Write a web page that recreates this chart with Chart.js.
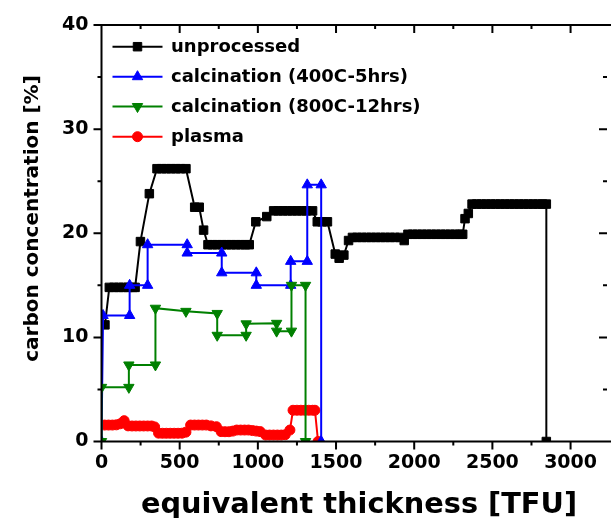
<!DOCTYPE html>
<html><head><meta charset="utf-8">
<script src="https://cdn.jsdelivr.net/npm/chart.js@4.4.1/dist/chart.umd.min.js"></script>
<style>html,body{margin:0;padding:0;background:#fff;}canvas{display:block;}</style>
</head><body>
<canvas id="c" width="614" height="518"></canvas>
<script>
// ---------- data ----------
const seriesNames = ['unprocessed', 'calcination (400C-5hrs)', 'calcination (800C-12hrs)', 'plasma'];

const unprocessed = [
  [22,11.2],
  [50,14.8],[80,14.8],[110,14.8],[140,14.8],[170,14.8],[200,14.8],[215,14.8],
  [249,19.2],[306,23.8],
  [355,26.2],[385,26.2],[415,26.2],[445,26.2],[475,26.2],[505,26.2],[540,26.2],
  [596,22.5],[625,22.5],[653,20.3],
  [681,18.9],[710,18.9],[740,18.9],[770,18.9],[800,18.9],[830,18.9],[860,18.9],[890,18.9],[920,18.9],[945,18.9],
  [987,21.1],[1057,21.6],
  [1101,22.15],[1130,22.15],[1160,22.15],[1190,22.15],[1220,22.15],[1250,22.15],[1280,22.15],[1310,22.15],[1350,22.15],
  [1380,21.1],[1410,21.1],[1445,21.1],
  [1495,18.0],[1520,17.6],[1550,17.9],[1580,19.3],
  [1605,19.6],[1635,19.6],[1665,19.6],[1695,19.6],[1725,19.6],[1755,19.6],[1785,19.6],[1815,19.6],[1845,19.6],[1875,19.6],[1910,19.6],
  [1936,19.3],
  [1960,19.9],[1990,19.9],[2020,19.9],[2050,19.9],[2080,19.9],[2110,19.9],[2140,19.9],[2170,19.9],[2200,19.9],[2230,19.9],[2260,19.9],[2290,19.9],[2310,19.9],
  [2325,21.4],[2346,21.9],
  [2370,22.8],[2400,22.8],[2430,22.8],[2460,22.8],[2490,22.8],[2520,22.8],[2550,22.8],[2580,22.8],[2610,22.8],[2640,22.8],[2670,22.8],[2700,22.8],[2730,22.8],[2760,22.8],[2790,22.8],[2820,22.8],[2845,22.8],
  [2845,0]
];

const calc400 = [
  [0,0],[10,12.1],[180,12.1],[180,15.0],[295,15.0],[295,18.9],[548,18.9],[548,18.1],
  [769,18.1],[769,16.2],[990,16.2],[990,15.0],[1210,15.0],[1210,17.3],[1316,17.3],
  [1316,24.65],[1405,24.65],[1405,0]
];

const calc800 = [
  [0,0],[0,5.2],[175,5.2],[175,7.35],[345,7.35],[345,12.8],[540,12.5],[740,12.3],
  [740,10.2],[925,10.2],[925,11.3],[1120,11.35],[1120,10.6],[1215,10.6],[1215,15.0],
  [1305,15.0],[1305,0]
];

const plasma = [
  [20,1.58],[45,1.58],[70,1.58],[95,1.6],[120,1.7],[145,2.0],[170,1.5],[195,1.49],[220,1.49],
  [245,1.49],[270,1.49],[295,1.49],[320,1.49],[340,1.4],[365,0.8],[390,0.79],[415,0.79],
  [440,0.79],[465,0.79],[490,0.79],[515,0.8],[540,0.9],[570,1.58],[595,1.58],[620,1.58],
  [645,1.58],[670,1.58],[700,1.5],[735,1.42],[765,0.95],[790,0.94],[815,0.94],[840,1.0],
  [865,1.1],[890,1.1],[915,1.1],[940,1.1],[965,1.05],[990,1.0],[1015,0.95],[1050,0.62],
  [1075,0.62],[1100,0.62],[1125,0.62],[1150,0.62],[1175,0.65],[1205,1.1],[1225,3.0],
  [1250,3.0],[1275,3.0],[1300,3.0],[1325,3.0],[1350,3.0],[1365,3.0],[1385,0]
];

const xTicks = [0, 500, 1000, 1500, 2000, 2500, 3000];
const yTicks = [0, 10, 20, 30, 40];
const xMinorStep = 250;
const yMinorStep = 5;
const xTitle = 'equivalent thickness [TFU]';
const yTitle = 'carbon concentration [%]';

// ---------- styling ----------
const FONT = "'DejaVu Sans', sans-serif";
const colors = ['#000000', '#0000ff', '#008000', '#ff0000'];
const styles = [
  {pointStyle: 'rect', radius: 6, rotation: 0},
  {pointStyle: 'triangle', radius: 6, rotation: 0},
  {pointStyle: 'triangle', radius: 6, rotation: 180},
  {pointStyle: 'circle', radius: 5, rotation: 0}
];
const drawOrder = [2, 1, 0, 3]; // lower = on top
const allSeries = [unprocessed, calc400, calc800, plasma];

const datasets = allSeries.map((s, i) => ({
  label: seriesNames[i],
  data: s.map(p => ({x: p[0], y: p[1]})),
  borderColor: colors[i],
  backgroundColor: colors[i],
  pointBackgroundColor: colors[i],
  pointBorderColor: colors[i],
  borderWidth: 2,
  pointStyle: styles[i].pointStyle,
  pointRadius: styles[i].radius,
  pointRotation: styles[i].rotation,
  pointBorderWidth: 1,
  tension: 0,
  fill: false,
  order: drawOrder[i]
}));

const frameAndLegend = {
  id: 'frameAndLegend',
  afterDatasetsDraw(chart) {
    const ctx = chart.ctx, xs = chart.scales.x, ys = chart.scales.y, a = chart.chartArea;
    ctx.save();
    ctx.strokeStyle = '#000';
    ctx.lineWidth = 2;
    ctx.lineCap = 'butt';
    ctx.beginPath();
    ctx.moveTo(a.left, a.top - 1); ctx.lineTo(a.left, a.bottom + 1);
    ctx.moveTo(a.left - 1, a.bottom); ctx.lineTo(a.right + 4, a.bottom);
    ctx.moveTo(a.left - 1, a.top); ctx.lineTo(a.right + 4, a.top);
    for (let v = xs.min; v <= xs.max + 0.001; v += xMinorStep) {
      const px = xs.getPixelForValue(v);
      const len = (v % 500 === 0) ? 8 : 4;
      ctx.moveTo(px, a.bottom); ctx.lineTo(px, a.bottom + len);
      ctx.moveTo(px, a.top); ctx.lineTo(px, a.top + len);
    }
    for (let v = ys.min; v <= ys.max + 0.001; v += yMinorStep) {
      const py = ys.getPixelForValue(v);
      const len = (v % 10 === 0) ? 8 : 4;
      ctx.moveTo(a.left, py); ctx.lineTo(a.left - len, py);
      ctx.moveTo(a.right, py); ctx.lineTo(a.right - len, py);
    }
    ctx.stroke();

    // axis titles
    ctx.fillStyle = '#000';
    ctx.textAlign = 'center';
    ctx.textBaseline = 'alphabetic';
    ctx.font = "bold 28.8px " + FONT;
    ctx.fillText(xTitle, 359, 513);
    ctx.save();
    ctx.translate(37.5, 218.5);
    ctx.rotate(-Math.PI / 2);
    ctx.font = "bold 20px " + FONT;
    ctx.fillText(yTitle, 0, 0);
    ctx.restore();

    // legend
    const rows = [46.7, 76.7, 106.5, 136.7];
    ctx.font = "bold 18px " + FONT;
    ctx.textAlign = 'left';
    ctx.textBaseline = 'middle';
    for (let i = 0; i < seriesNames.length; i++) {
      const y = rows[i];
      ctx.strokeStyle = colors[i];
      ctx.fillStyle = colors[i];
      ctx.lineWidth = 2;
      ctx.beginPath(); ctx.moveTo(112.5, y); ctx.lineTo(162.5, y); ctx.stroke();
      ctx.lineWidth = 1;
      Chart.helpers.drawPoint(ctx, {pointStyle: styles[i].pointStyle, radius: styles[i].radius, rotation: styles[i].rotation, borderWidth: 1}, 137.5, y);
      ctx.fillStyle = '#000';
      ctx.fillText(seriesNames[i], 171, y + 1);
    }
    ctx.restore();
  }
};

const tickFont = {family: FONT, size: 19, weight: 'bold'};
const plainNumber = v => String(v);

new Chart(document.getElementById('c'), {
  type: 'line',
  data: {datasets},
  options: {
    responsive: false,
    animation: false,
    devicePixelRatio: 1,
    layout: {padding: {top: 25, left: 0, right: 0, bottom: 0}},
    plugins: {legend: {display: false}, tooltip: {enabled: false}},
    scales: {
      x: {
        type: 'linear', min: 0, max: 3233,
        afterFit(s) { s.height = 76.5; },
        afterBuildTicks(s) { s.ticks = xTicks.map(v => ({value: v})); },
        grid: {display: false, drawTicks: false},
        border: {display: false},
        ticks: {padding: 10, font: tickFont, color: '#000', maxRotation: 0, autoSkip: false, includeBounds: false, callback: plainNumber}
      },
      y: {
        type: 'linear', min: 0, max: 40,
        afterFit(s) { s.width = 101.5; },
        afterBuildTicks(s) { s.ticks = yTicks.map(v => ({value: v})); },
        grid: {display: false, drawTicks: false},
        border: {display: false},
        ticks: {padding: 13, font: tickFont, color: '#000', autoSkip: false, includeBounds: false, callback: plainNumber}
      }
    }
  },
  plugins: [frameAndLegend]
});
</script>
</body></html>
